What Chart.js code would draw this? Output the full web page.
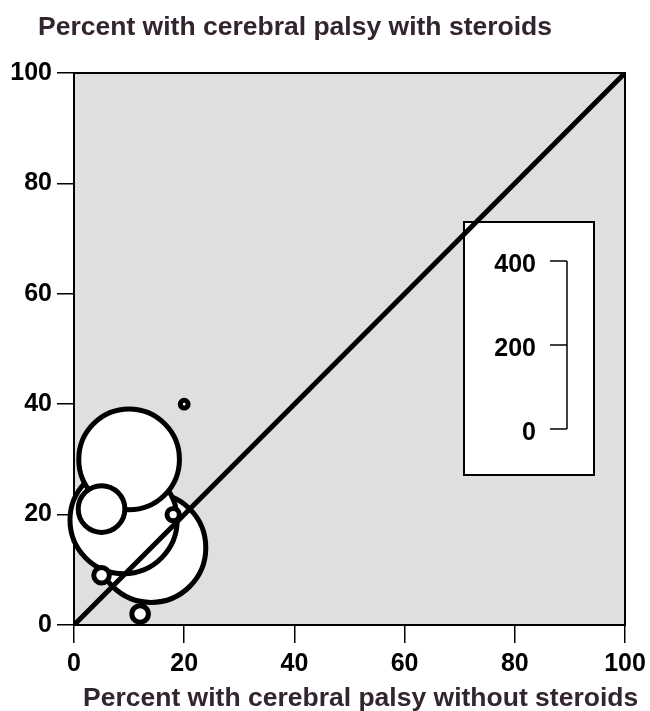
<!DOCTYPE html>
<html>
<head>
<meta charset="utf-8">
<script src="https://cdn.jsdelivr.net/npm/chart.js@4/dist/chart.umd.min.js"></script>
<style>
    body { margin: 0; background: #ffffff; }
    #wrap { width: 650px; height: 711px; position: relative; }
</style>
</head>
<body>
<div id="wrap"><canvas id="cpChart"></canvas></div>
<script>
    // Trials: percent with CP without / with steroids, and trial size
    const withoutSteroids = [14, 9, 10, 5, 18, 5, 12, 20];
    const withSteroids = [14, 19, 30, 21, 20, 9, 2, 40];
    const trialSizes = [395, 380, 335, 72, 5, 8, 9, 2];

    // Axis ticks
    const axisTicks = [0, 20, 40, 60, 80, 100];
    // Size key ticks
    const keyTicks = [0, 200, 400];

    const titleTop = 'Percent with cerebral palsy with steroids';
    const titleBottom = 'Percent with cerebral palsy without steroids';

    const fontFamily = '"Liberation Sans", Arial, Helvetica, sans-serif';
    Chart.defaults.font.family = fontFamily;

    // bubble radius from trial size (area ~ n)
    function radiusFor(n) {
        return 2.75 * Math.sqrt(n);
    }

    const bubbles = withoutSteroids.map((x, i) => ({
        x: x,
        y: withSteroids[i],
        r: radiusFor(trialSizes[i])
    }));

    // Gray plot area with a frame
    const plotBackground = {
        id: 'plotBackground',
        beforeDraw(chart) {
            const { ctx, chartArea: a } = chart;
            ctx.save();
            ctx.fillStyle = '#dfdfdf';
            ctx.fillRect(a.left, a.top, a.right - a.left, a.bottom - a.top);
            ctx.strokeStyle = '#000';
            ctx.lineWidth = 2;
            ctx.strokeRect(a.left, a.top, a.right - a.left, a.bottom - a.top);
            ctx.restore();
        }
    };

    // Size key box (drawn under the diagonal)
    const sizeKey = {
        id: 'sizeKey',
        beforeDatasetsDraw(chart) {
            const ctx = chart.ctx;
            const box = { left: 464, top: 222, right: 594, bottom: 475 };
            const y0 = 429, y1 = 261;
            const maxVal = keyTicks[keyTicks.length - 1];
            const lineX = 567;

            ctx.save();
            ctx.fillStyle = '#fff';
            ctx.fillRect(box.left, box.top, box.right - box.left, box.bottom - box.top);
            ctx.strokeStyle = '#000';
            ctx.lineWidth = 2;
            ctx.strokeRect(box.left, box.top, box.right - box.left, box.bottom - box.top);

            ctx.lineWidth = 1.5;
            ctx.beginPath();
            ctx.moveTo(lineX, y0);
            ctx.lineTo(lineX, y1);
            ctx.stroke();

            ctx.font = 'bold 25px ' + fontFamily;
            ctx.fillStyle = '#000';
            ctx.textAlign = 'right';
            ctx.textBaseline = 'middle';
            keyTicks.forEach(v => {
                const y = y0 + (y1 - y0) * v / maxVal;
                ctx.beginPath();
                ctx.moveTo(lineX - 17, y);
                ctx.lineTo(lineX, y);
                ctx.stroke();
                ctx.fillText(String(v), 536, y + 4);
            });
            ctx.restore();
        }
    };

    // Axis titles
    const axisTitles = {
        id: 'axisTitles',
        afterDraw(chart) {
            const ctx = chart.ctx;
            ctx.save();
            ctx.font = 'bold 26.5px ' + fontFamily;
            ctx.fillStyle = '#33252f';
            ctx.textAlign = 'left';
            ctx.textBaseline = 'alphabetic';
            ctx.fillText(titleTop, 38, 35);
            ctx.fillText(titleBottom, 83, 706);
            ctx.restore();
        }
    };

    const tickFont = { size: 25, weight: 'bold' };

    new Chart(document.getElementById('cpChart'), {
        data: {
            datasets: [
                {
                    type: 'line',
                    data: [{ x: 0, y: 0 }, { x: 100, y: 100 }],
                    borderColor: '#000',
                    borderWidth: 5,
                    pointRadius: 0,
                    order: 0
                },
                {
                    type: 'bubble',
                    data: bubbles,
                    backgroundColor: '#fff',
                    borderColor: '#000',
                    borderWidth: 5,
                    clip: false,
                    order: 1
                }
            ]
        },
        options: {
            responsive: true,
            maintainAspectRatio: false,
            animation: false,
            layout: {
                autoPadding: false,
                padding: { top: 73, right: 25, left: 0, bottom: 0 }
            },
            plugins: {
                legend: { display: false },
                tooltip: { enabled: false }
            },
            scales: {
                x: {
                    type: 'linear',
                    min: 0,
                    max: 100,
                    afterBuildTicks: s => { s.ticks = axisTicks.map(v => ({ value: v })); },
                    afterFit: s => {
                        s.height = 86;
                        s.paddingLeft = 0;
                        s.paddingRight = 0;
                    },
                    border: { display: false },
                    grid: {
                        drawOnChartArea: false,
                        drawTicks: true,
                        tickLength: 18,
                        color: '#000',
                        lineWidth: 1.5
                    },
                    ticks: { color: '#000', font: tickFont, padding: 6, maxRotation: 0 }
                },
                y: {
                    type: 'linear',
                    min: 0,
                    max: 100,
                    afterBuildTicks: s => { s.ticks = axisTicks.map(v => ({ value: v })); },
                    afterFit: s => {
                        s.width = 74;
                        s.paddingTop = 0;
                        s.paddingBottom = 0;
                    },
                    border: { display: false },
                    grid: {
                        drawOnChartArea: false,
                        drawTicks: true,
                        tickLength: 17,
                        color: '#000',
                        lineWidth: 1.5
                    },
                    ticks: { color: '#000', font: tickFont, padding: 5 }
                }
            }
        },
        plugins: [plotBackground, sizeKey, axisTitles]
    });
</script>
</body>
</html>
